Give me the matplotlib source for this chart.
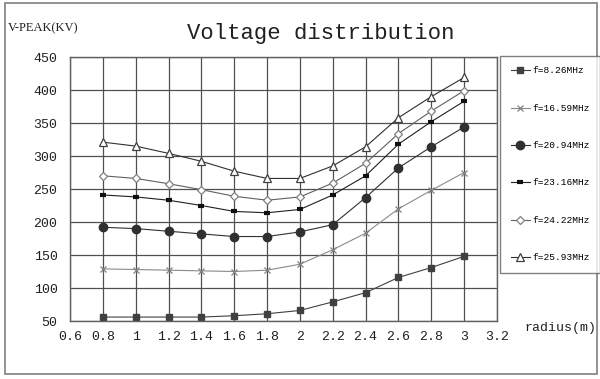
import numpy as np
import matplotlib.pyplot as plt
from matplotlib.patches import Rectangle

# radial positions (m) and peak voltage (kV) per drive frequency
radius = [0.8, 1.0, 1.2, 1.4, 1.6, 1.8, 2.0, 2.2, 2.4, 2.6, 2.8, 3.0]

v_826 = [56, 56, 56, 56, 58, 61, 66, 79, 93, 116, 131, 148]
v_1659 = [129, 128, 127, 126, 125, 127, 136, 158, 183, 220, 248, 275]
v_2094 = [192, 190, 186, 182, 178, 178, 185, 196, 237, 282, 314, 344]
v_2316 = [241, 238, 233, 225, 216, 214, 219, 241, 270, 318, 352, 383]
v_2422 = [270, 266, 258, 249, 239, 233, 238, 259, 289, 334, 368, 399]
v_2593 = [321, 315, 304, 292, 277, 266, 266, 285, 314, 358, 390, 419]

labels = ["f=8.26MHz", "f=16.59MHz", "f=20.94MHz",
          "f=23.16MHz", "f=24.22MHz", "f=25.93MHz"]
xticks = [0.6, 0.8, 1.0, 1.2, 1.4, 1.6, 1.8, 2.0, 2.2, 2.4, 2.6, 2.8, 3.0, 3.2]
xticklabels = ["0.6", "0.8", "1", "1.2", "1.4", "1.6", "1.8", "2",
               "2.2", "2.4", "2.6", "2.8", "3", "3.2"]
yticks = [50, 100, 150, 200, 250, 300, 350, 400, 450]

mono = "Liberation Mono"

fig = plt.figure(figsize=(6, 3.79), dpi=100)
fig.patches.append(Rectangle((0.008, 0.013), 0.987, 0.98, transform=fig.transFigure,
                             fill=False, edgecolor="#808080", linewidth=1.2))

ax = fig.add_axes([0.1167, 0.153, 0.7116, 0.6966])

styles = [
    dict(color="#404040", marker="s", markersize=5, mfc="#404040", mec="#404040"),
    dict(color="#8a8a8a", marker="x", markersize=5, mfc="none", mec="#808080", mew=0.9),
    dict(color="#303030", marker="o", markersize=6, mfc="#303030", mec="#303030"),
    dict(color="#202020", marker="_", markersize=5, mec="#101010", mew=3.0),
    dict(color="#606060", marker="D", markersize=3.8, mfc="white", mec="#808080", mew=0.9),
    dict(color="#303030", marker="^", markersize=5.5, mfc="white", mec="#404040", mew=0.9),
]
series = [v_826, v_1659, v_2094, v_2316, v_2422, v_2593]

handles = []
for vals, lab, st in zip(series, labels, styles):
    h, = ax.plot(radius, vals, linewidth=0.8, label=lab, **st)
    handles.append(h)

ax.set_xlim(0.6, 3.2)
ax.set_ylim(50, 450)
ax.set_xticks(xticks)
ax.set_xticklabels(xticklabels, family=mono, fontsize=9.5)
ax.set_yticks(yticks)
ax.set_yticklabels([str(v) for v in yticks], family=mono, fontsize=9.5)
ax.tick_params(axis="x", length=0, pad=7, colors="#202020")
ax.tick_params(axis="y", length=0, pad=9, colors="#202020")
ax.grid(True, color="#505050", linewidth=0.9)
ax.set_axisbelow(True)
for sp in ax.spines.values():
    sp.set_color("#606060")
    sp.set_linewidth(1.0)

fig.text(0.535, 0.912, "Voltage distribution", family=mono, fontsize=16,
         ha="center", va="center", color="#202020")
fig.text(0.013, 0.925, "V-PEAK(KV)", fontsize=9, ha="left", va="center",
         color="#202020", family="Liberation Serif")
fig.text(0.874, 0.135, "radius(m)", family=mono, fontsize=9.5,
         ha="left", va="center", color="#202020")

leg = fig.legend(handles=handles, loc="upper left", bbox_to_anchor=(0.834, 0.852),
                 prop=dict(family=mono, size=6.8), frameon=True, fancybox=False,
                 labelspacing=3.0, handlelength=2.0, handletextpad=0.25,
                 borderpad=1.1, borderaxespad=0, handleheight=0.7)
leg.get_frame().set_edgecolor("#606060")
leg.get_frame().set_linewidth(1.0)

fig.savefig("out.png", dpi=100)
